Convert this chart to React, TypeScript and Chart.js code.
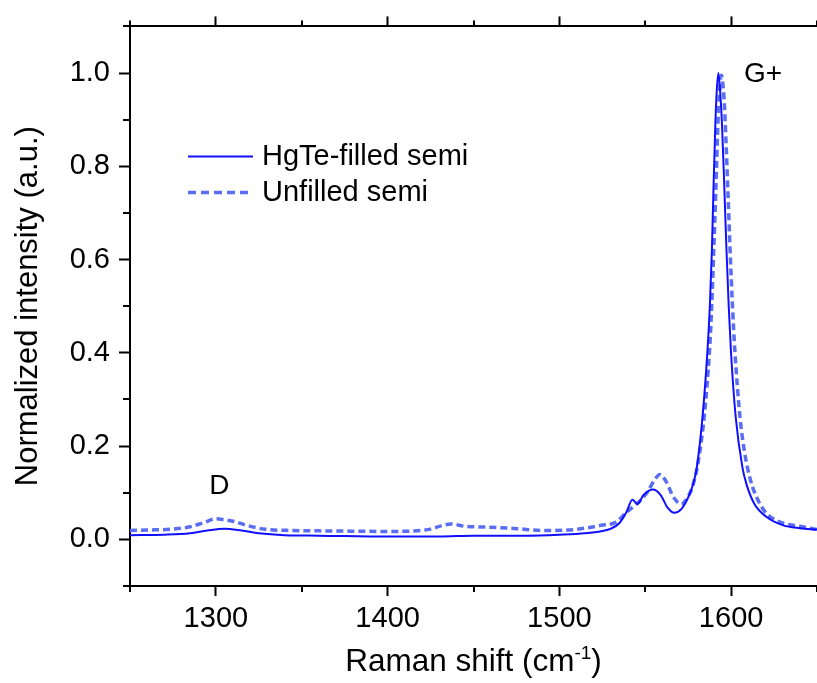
import React, { useEffect, useRef } from "react";
import { Chart, registerables } from "chart.js";

Chart.register(...registerables);

// ---- data ----
const filledX = [1250, 1270, 1285, 1295, 1305, 1315, 1325, 1340, 1360, 1400, 1430, 1450, 1480, 1500, 1515, 1525, 1530, 1535, 1539, 1542.5, 1545.5, 1549, 1554.5, 1559, 1563, 1567, 1571, 1575, 1578, 1580, 1583.3, 1586.2, 1587.6, 1588.8, 1589.7, 1590.8, 1591.6, 1592.6, 1593.8, 1594.7, 1596.1, 1597.3, 1598.6, 1599.9, 1602.7, 1606.6, 1608.8, 1613.4, 1620.7, 1630.4, 1640, 1650];
const filledY = [0.009, 0.010, 0.013, 0.019, 0.023, 0.019, 0.013, 0.009, 0.008, 0.006, 0.006, 0.008, 0.008, 0.010, 0.013, 0.018, 0.023, 0.035, 0.058, 0.085, 0.076, 0.095, 0.107, 0.095, 0.068, 0.057, 0.065, 0.090, 0.120, 0.154, 0.261, 0.403, 0.500, 0.620, 0.748, 0.889, 0.960, 1.0, 0.950, 0.889, 0.748, 0.620, 0.500, 0.403, 0.261, 0.154, 0.120, 0.077, 0.048, 0.030, 0.024, 0.021];

const unfilledX = [1250, 1260, 1275, 1285, 1293, 1300, 1305, 1310, 1318, 1328, 1345, 1370, 1400, 1415, 1425, 1432, 1437, 1445, 1460, 1475, 1490, 1505, 1515, 1524, 1533, 1539, 1545, 1551, 1555, 1558.5, 1562, 1566.5, 1571, 1575, 1578, 1581, 1584.5, 1587.4, 1588.7, 1589.9, 1591.1, 1592.4, 1593.1, 1594.3, 1595.8, 1596.5, 1598.1, 1599.4, 1600.8, 1602.2, 1605.2, 1607.7, 1609.5, 1612.7, 1619.2, 1626.6, 1640, 1650];
const unfilledY = [0.019, 0.020, 0.022, 0.027, 0.036, 0.044, 0.042, 0.039, 0.030, 0.022, 0.019, 0.018, 0.017, 0.018, 0.022, 0.030, 0.033, 0.028, 0.026, 0.023, 0.019, 0.020, 0.024, 0.030, 0.037, 0.058, 0.076, 0.100, 0.125, 0.139, 0.125, 0.090, 0.076, 0.092, 0.119, 0.170, 0.270, 0.403, 0.500, 0.620, 0.750, 0.900, 0.950, 0.995, 0.950, 0.900, 0.750, 0.620, 0.500, 0.403, 0.261, 0.190, 0.154, 0.110, 0.062, 0.040, 0.028, 0.021];

const seriesLabels = ["HgTe-filled semi", "Unfilled semi"];
const xMajorTicks = [1300, 1400, 1500, 1600];
const xMinorTicks = [1250, 1350, 1450, 1550, 1650];
const yMajorTicks = [0, 0.2, 0.4, 0.6, 0.8, 1.0];
const yMinorTicks = [-0.1, 0.1, 0.3, 0.5, 0.7, 0.9, 1.1];
const peakLabels = ["D", "G+"];
const peakX = [1302, 1607.5];
const peakY = [0.113, 0.998];
const xTitleParts = ["Raman shift (cm", "-1", ")"];
const yTitle = "Normalized intensity (a.u.)";

const FONT = "'Liberation Sans', Arial, sans-serif";
const SOLID = "#1010ff";
const DASHED = "#5a6df3";

const decorPlugin = {
  id: "decor",
  afterDraw(chart: any) {
    const { ctx, chartArea } = chart;
    const x = chart.scales.x;
    const y = chart.scales.y;
    ctx.save();
    // minor ticks
    ctx.strokeStyle = "#000";
    ctx.lineWidth = 2;
    ctx.beginPath();
    xMinorTicks.forEach((v) => {
      const px = Math.round(x.getPixelForValue(v));
      ctx.moveTo(px, chartArea.bottom);
      ctx.lineTo(px, chartArea.bottom + 6);
      ctx.moveTo(px, chartArea.top);
      ctx.lineTo(px, chartArea.top - 6);
    });
    yMinorTicks.forEach((v) => {
      const py = Math.round(y.getPixelForValue(v));
      ctx.moveTo(chartArea.left, py);
      ctx.lineTo(chartArea.left - 7, py);
    });
    ctx.stroke();

    // peak labels
    ctx.fillStyle = "#000";
    ctx.font = `28px ${FONT}`;
    ctx.textBaseline = "middle";
    peakLabels.forEach((t, i) => {
      ctx.textAlign = i === 0 ? "center" : "left";
      ctx.fillText(t, x.getPixelForValue(peakX[i]), y.getPixelForValue(peakY[i]));
    });

    // legend
    const lx0 = chartArea.left + 58;
    const lx1 = chartArea.left + 123;
    const ly = [chartArea.top + 130, chartArea.top + 166];
    ctx.lineWidth = 2;
    ctx.strokeStyle = SOLID;
    ctx.setLineDash([]);
    ctx.beginPath();
    ctx.moveTo(lx0, ly[0]);
    ctx.lineTo(lx1, ly[0]);
    ctx.stroke();
    ctx.lineWidth = 3.5;
    ctx.strokeStyle = DASHED;
    ctx.setLineDash([8, 5]);
    ctx.beginPath();
    ctx.moveTo(lx0, ly[1]);
    ctx.lineTo(lx1, ly[1]);
    ctx.stroke();
    ctx.setLineDash([]);
    ctx.font = `29px ${FONT}`;
    ctx.textAlign = "left";
    ctx.fillStyle = "#000";
    seriesLabels.forEach((t, i) => ctx.fillText(t, lx1 + 9, ly[i] + 1));

    // x title with superscript
    const cx = (chartArea.left + chartArea.right) / 2;
    const base = 671;
    ctx.textBaseline = "alphabetic";
    ctx.font = `31.5px ${FONT}`;
    const w1 = ctx.measureText(xTitleParts[0]).width;
    const w3 = ctx.measureText(xTitleParts[2]).width;
    ctx.font = `19px ${FONT}`;
    const w2 = ctx.measureText(xTitleParts[1]).width;
    let sx = cx - (w1 + w2 + w3) / 2;
    ctx.font = `31.5px ${FONT}`;
    ctx.fillText(xTitleParts[0], sx, base);
    sx += w1;
    ctx.font = `19px ${FONT}`;
    ctx.fillText(xTitleParts[1], sx, base - 12);
    sx += w2;
    ctx.font = `31.5px ${FONT}`;
    ctx.fillText(xTitleParts[2], sx, base);
    ctx.restore();
  },
};

export default function App() {
  const ref = useRef<HTMLCanvasElement>(null);
  useEffect(() => {
    if (!ref.current) return;
    const gridOpts = {
      drawOnChartArea: false,
      tickLength: 10,
      tickWidth: 2,
      tickColor: "#000",
      color: "#000",
    };
    const borderOpts = { display: true, color: "#000", width: 2 };
    const chart = new Chart(ref.current, {
      type: "line",
      data: {
        datasets: [
          {
            label: seriesLabels[0],
            data: filledX.map((v, i) => ({ x: v, y: filledY[i] })),
            borderColor: SOLID,
            borderWidth: 2,
            pointRadius: 0,
            fill: false,
            cubicInterpolationMode: "monotone",
            order: 1,
          },
          {
            label: seriesLabels[1],
            data: unfilledX.map((v, i) => ({ x: v, y: unfilledY[i] })),
            borderColor: DASHED,
            borderWidth: 3.5,
            borderDash: [7, 4],
            pointRadius: 0,
            fill: false,
            cubicInterpolationMode: "monotone",
            order: 2,
          },
        ],
      },
      plugins: [decorPlugin],
      options: {
        responsive: false,
        animation: false,
        devicePixelRatio: 1,
        layout: { padding: 0 },
        plugins: { legend: { display: false }, tooltip: { enabled: false } },
        scales: {
          x: {
            type: "linear",
            position: "bottom",
            min: 1250,
            max: 1650,
            afterBuildTicks: (s: any) => {
              s.ticks = xMajorTicks.map((v) => ({ value: v }));
            },
            afterFit: (s: any) => {
              s.height = 97;
            },
            ticks: {
              font: { family: FONT, size: 29 },
              color: "#000",
              padding: 6,
              maxRotation: 0,
              autoSkip: false,
              callback: (v: any) => String(v),
            },
            grid: gridOpts,
            border: borderOpts,
          },
          xTop: {
            type: "linear",
            position: "top",
            min: 1250,
            max: 1650,
            afterBuildTicks: (s: any) => {
              s.ticks = xMajorTicks.map((v) => ({ value: v }));
            },
            afterFit: (s: any) => {
              s.height = 22;
            },
            ticks: { display: false },
            grid: gridOpts,
            border: borderOpts,
          },
          y: {
            type: "linear",
            position: "left",
            min: -0.1,
            max: 1.1,
            afterBuildTicks: (s: any) => {
              s.ticks = yMajorTicks.map((v) => ({ value: v }));
            },
            afterFit: (s: any) => {
              s.width = 130;
            },
            ticks: {
              font: { family: FONT, size: 29 },
              color: "#000",
              padding: 9,
              callback: (v: any) => Number(v).toFixed(1),
            },
            title: {
              display: true,
              text: yTitle,
              color: "#000",
              font: { family: FONT, size: 31 },
              padding: { top: 10, bottom: 0 },
            },
            grid: { ...gridOpts, tickLength: 11 },
            border: borderOpts,
          },
        },
      },
    } as any);
    return () => chart.destroy();
  }, []);
  return (
    <div style={{ position: "absolute", left: 0, top: 0, width: 817, height: 683, background: "#fff" }}>
      <canvas ref={ref} width={817} height={683} style={{ display: "block" }} />
    </div>
  );
}
